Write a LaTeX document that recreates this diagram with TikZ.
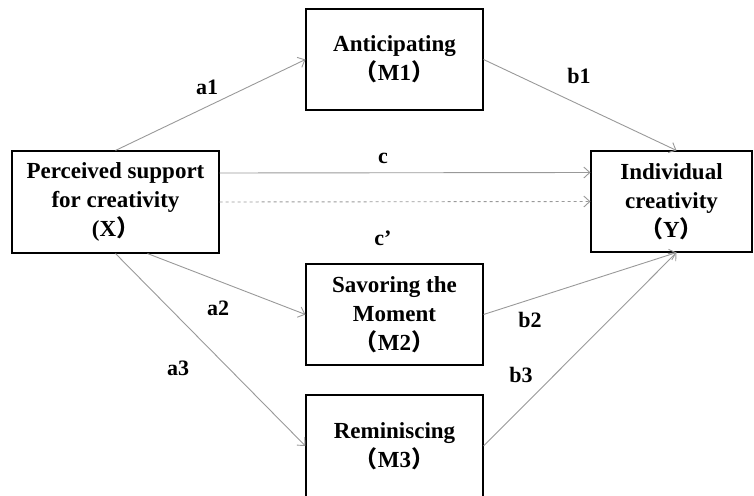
\documentclass[tikz,border=0pt]{standalone}
\usepackage{fontspec}
\setmainfont{Liberation Serif}
\newfontfamily\cjk{Noto Sans CJK SC}
\usetikzlibrary{arrows.meta}
\newcommand{\lpar}{{\cjk （}}
\newcommand{\rpar}{{\cjk ）}}

\begin{document}
\begin{tikzpicture}[x=1pt,y=-1pt]
    \tikzset{box/.style = {shape=rectangle,draw,line width=1.1pt,align=center,inner sep=0pt,font=\fontsize{23}{29}\selectfont\bfseries}}
    \tikzset{link/.style = {-{Straight Barb[length=6pt,width=11pt]},draw=black!40,line width=0.9pt}}
    \tikzset{lab/.style = {font=\fontsize{22}{26}\selectfont\bfseries}}
    \useasboundingbox (0,0) rectangle (754,495);
    % vertices
    \node[box,minimum width=207pt,minimum height=102pt] (x) at (115.5,202) {Perceived support\\for creativity\\(X\rpar};
    \node[box,minimum width=177pt,minimum height=101pt] (m1) at (394.5,59.5) {Anticipating\\\lpar M1\rpar};
    \node[box,minimum width=177pt,minimum height=101pt] (m2) at (394.5,314.5) {Savoring the\\Moment\\\lpar M2\rpar};
    \node[box,minimum width=177pt,minimum height=102pt] (m3) at (394.5,446) {Reminiscing\\\lpar M3\rpar};
    \node[box,minimum width=161pt,minimum height=101pt] (y) at (671.5,201.5) {Individual\\creativity\\\lpar Y\rpar};
    % labels
    \node[lab] (la1) at (207,87) {a1};
    \node[lab] (lb1) at (579,76) {b1};
    \node[lab] (lc) at (383,158) {c};
    \node[lab] (lcp) at (383,238) {c’};
    \node[lab] (la2) at (218,308) {a2};
    \node[lab] (la3) at (178,368) {a3};
    \node[lab] (lb2) at (530,320) {b2};
    \node[lab] (lb3) at (521,375) {b3};
    %edges
    \draw[link] (x.north) -- (m1.west);
    \draw[link] (m1.east) -- ([xshift=5pt]y.north);
    \draw[link] ([yshift=29pt]x.east) -- ([yshift=29pt]y.west);
    \draw[link,dashed] (x.east) -- (y.west);
    \draw[link] ([xshift=32pt]x.south) -- (m2.west);
    \draw[link] (x.south) -- (m3.west);
    \draw[link] (m2.east) -- ([xshift=5pt]y.south);
    \draw[link] (m3.east) -- ([xshift=5pt]y.south);
\end{tikzpicture}
\end{document}
